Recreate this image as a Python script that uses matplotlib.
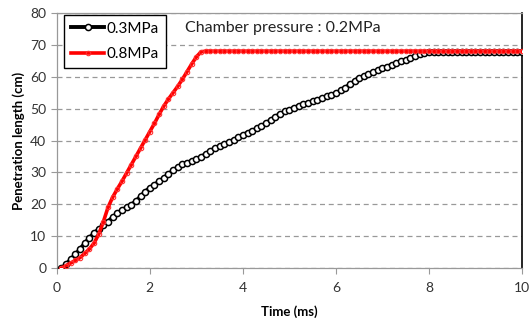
import matplotlib.pyplot as plt
import numpy as np

plt.rcParams['font.family'] = ['Lato', 'DejaVu Sans']

# time axis (ms), one sample every 0.1 ms
time_ms = np.round(np.arange(0.1, 10.01, 0.1), 1)

# 0.3 MPa injection pressure
len_03 = [0.0, 1.2, 2.8, 4.3, 6.0, 7.8, 9.5, 11.0, 12.2, 13.4,
          14.6, 16.0, 17.2, 18.2, 19.1, 19.9, 21.0, 22.5, 24.0, 25.2,
          26.2, 27.2, 28.3, 29.5, 30.7, 31.7, 32.5, 33.1, 33.6, 34.1,
          34.9, 35.8, 36.8, 37.6, 38.3, 38.9, 39.5, 40.2, 41.0, 41.8,
          42.5, 43.1, 43.8, 44.6, 45.5, 46.5, 47.5, 48.4, 49.1, 49.7,
          50.3, 50.9, 51.4, 51.9, 52.3, 52.8, 53.3, 53.8, 54.3, 54.9,
          55.7, 56.6, 57.6, 58.6, 59.5, 60.2, 60.8, 61.4, 62.0, 62.6,
          63.2, 63.8, 64.3, 64.8, 65.3, 65.9, 66.5, 67.0, 67.4, 67.6,
          67.6, 67.6, 67.6, 67.6, 67.6, 67.6, 67.6, 67.6, 67.6, 67.6,
          67.6, 67.6, 67.6, 67.6, 67.6, 67.6, 67.6, 67.6, 67.6, 67.6]

# 0.8 MPa injection pressure
len_08 = [0.0, 0.8, 1.6, 2.4, 3.3, 4.6, 6.0, 7.8, 10.6, 14.5,
          19.0, 22.2, 24.8, 27.2, 29.8, 32.4, 35.0, 37.6, 40.2, 42.8,
          45.4, 48.2, 50.8, 53.0, 55.0, 57.0, 59.2, 61.6, 64.0, 66.2,
          67.8, 68.0] + [68.0] * 68

fig = plt.figure(figsize=(5.31, 3.23), dpi=100)
ax = fig.add_axes([0.107, 0.170, 0.876, 0.790])

ax.plot(time_ms, len_03, color='black', lw=2.8, marker='o', ms=4.4,
        mfc='white', mec='black', mew=1.1, label='0.3MPa', zorder=3)
ax.plot(time_ms, len_08, color='red', lw=2.6, marker='o', ms=3.2,
        mfc='none', mec='#ff3030', mew=0.8, label='0.8MPa', zorder=4)

ax.set_xlim(0, 10)
ax.set_ylim(0, 80)
ax.set_xticks([0, 2, 4, 6, 8, 10])
ax.set_yticks(range(0, 81, 10))
ax.tick_params(labelsize=10, colors='#333333', length=4, width=0.8,
               direction='out')
ax.tick_params(axis='both', color='#999999')
ax.tick_params(axis='x', pad=6)

ax.grid(axis='y', color='#999999', linestyle=(0, (4, 3)), lw=0.9)
ax.set_axisbelow(True)
for side in ['left', 'bottom', 'top']:
    ax.spines[side].set_color('#999999')
    ax.spines[side].set_linewidth(0.9)
ax.spines['right'].set_color('black')
ax.spines['right'].set_linewidth(1.2)

ax.set_xlabel('Time (ms)', fontsize=9.5, fontweight='bold', labelpad=8)
ax.set_ylabel('Penetration length (cm)', fontsize=9.5, fontweight='bold', labelpad=4)

ax.text(0.275, 0.94, 'Chamber pressure : 0.2MPa', transform=ax.transAxes,
        fontsize=11.5, va='center', ha='left', color='#222222')

leg = ax.legend(loc='upper left', bbox_to_anchor=(0.012, 0.998), fontsize=11,
                fancybox=False, framealpha=1, edgecolor='black',
                handlelength=2.2, handletextpad=0.15, borderpad=0.45,
                labelspacing=0.75, borderaxespad=0.1)
leg.get_frame().set_linewidth(1.0)

plt.savefig('out.png', dpi=100)
